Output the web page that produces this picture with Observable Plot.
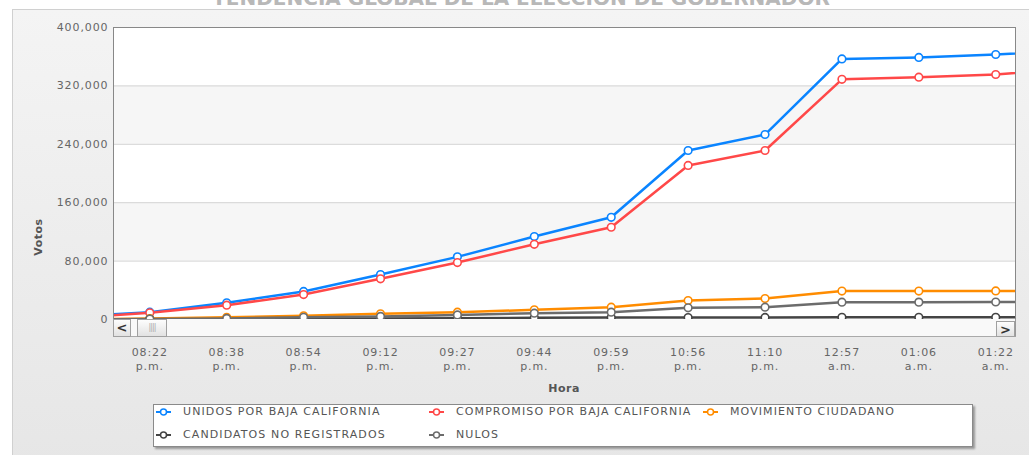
<!DOCTYPE html>
<html>
<head>
<meta charset="utf-8">
<script src="https://cdn.jsdelivr.net/npm/d3@7"></script>
<script src="https://cdn.jsdelivr.net/npm/@observablehq/plot@0.6"></script>
<style>
  body { margin: 0; background: #fff; font-family: "DejaVu Sans", Verdana, sans-serif; }
  #wrap { position: relative; width: 1029px; height: 455px; overflow: hidden; background: #fff; }
  #panel { position: absolute; left: 12px; top: 9px; width: 1030px; height: 460px;
           border: 1px solid #d0d0d0; background: linear-gradient(#f4f4f4, #e6e6e6); }
  #title { position: absolute; left: 0; top: -12px; width: 1042px; text-align: center;
           font: bold 20px/20px "DejaVu Sans", sans-serif; color: #b8b8b8; white-space: nowrap; }
  #chart { position: absolute; left: 0; top: 0; }
  .lbl { position: absolute; font: bold 11px "DejaVu Sans", sans-serif; color: #555; white-space: nowrap; letter-spacing: 0.5px; }
  #votos { left: 38px; top: 237px; transform: translate(-50%, -50%) rotate(-90deg); }
  #hora { left: 564px; top: 388px; transform: translate(-50%, -50%); }
  #track { position: absolute; left: 113px; top: 319px; width: 901px; height: 17px;
           background: #f9f9f9; border-left: 1px solid #999; border-right: 1px solid #999; border-bottom: 1px solid #aaa; }
  .btn { position: absolute; box-sizing: border-box; border: 1px solid #a0a0a0;
         background: linear-gradient(#fdfdfd, #e2e2e2); color: #333;
         font: bold 13px/15px "DejaVu Sans", sans-serif; text-align: center; }
  #lb { left: 113px; top: 319px; width: 18px; height: 18px; }
  #thumb { left: 137px; top: 319px; width: 30px; height: 18px; color: #aaa; font: 8px/16px "DejaVu Sans", sans-serif; letter-spacing: -1px; }
  #rb { left: 996px; top: 321px; width: 19px; height: 16px; }
  #legend { position: absolute; left: 153px; top: 404px; width: 818px; height: 41px;
            background: #fff; border: 1px solid #8a8a8a; box-shadow: 2px 2px 2px rgba(0,0,0,0.35); }
  .item { position: absolute; font: 11px "DejaVu Sans", sans-serif; color: #555; white-space: nowrap; letter-spacing: 1.1px; }
  .item svg { position: absolute; left: -27px; top: 1px; }
</style>
</head>
<body>
<div id="wrap">
  <div id="panel"></div>
  <div id="title"></div>
  <div id="chart"></div>
  <div id="track"></div>
  <div id="lb" class="btn">&lt;</div>
  <div id="thumb" class="btn">||||</div>
  <div id="rb" class="btn">&gt;</div>
  <div id="votos" class="lbl"></div>
  <div id="hora" class="lbl"></div>
  <div id="legend"></div>
</div>
<script>
// ---- Data ----
const titleText = "TENDENCIA GLOBAL DE LA ELECCIÓN DE GOBERNADOR";
const yLabel = "Votos";
const xLabel = "Hora";
const times   = ["08:22","08:38","08:54","09:12","09:27","09:44","09:59","10:56","11:10","12:57","01:06","01:22"];
const periods = ["p.m.","p.m.","p.m.","p.m.","p.m.","p.m.","p.m.","p.m.","p.m.","a.m.","a.m.","a.m."];
const yTicks = [0, 80000, 160000, 240000, 320000, 400000];

const seriesNames = ["UNIDOS POR BAJA CALIFORNIA","COMPROMISO POR BAJA CALIFORNIA","MOVIMIENTO CIUDADANO","CANDIDATOS NO REGISTRADOS","NULOS"];
const seriesColors = ["#0a84ff","#ff4848","#ff8c00","#444444","#6c6c6c"];
// order in which the series are placed in the legend grid (3 columns)
const legendOrder = [0, 1, 2, 3, 4];

// Each series: the point just before the visible window, the 12 visible points, the point just after it
const unidos     = [4000, 10000, 22800, 38400, 61600, 85800, 113700, 140000, 231500, 253400, 357000, 359000, 363000, 368000];
const compromiso = [2500,  9100, 19600, 34200, 55700, 78000, 103000, 126400, 211000, 231500, 329000, 332000, 335600, 344000];
const movimiento = [ 300,  1200,  3000,  5000,  7800, 10000,  13200,  16900,  26000,  28800,  38900,  39000,  39200,  39200];
const candidatos = [ 100,   300,   500,   800,  1200,  1800,   2400,   2600,   2700,   2800,   3000,   3000,   3000,   3000];
const nulos      = [ 200,   700,  1500,  3000,  4200,  6200,   8600,  10000,  16000,  16900,  23700,  23800,  24000,  24000];
const seriesValues = [unidos, compromiso, movimiento, candidatos, nulos];

// ---- Build table ----
const rows = [];
seriesValues.forEach((vals, s) => {
  vals.forEach((v, k) => rows.push({ serie: seriesNames[s], i: k - 1, v }));
});
const xDomain = [-0.472, 11.257];
const bands = [];
for (let k = 1; k + 1 < yTicks.length; k += 2) bands.push({ y1: yTicks[k], y2: yTicks[k + 1] });

document.getElementById("title").textContent = titleText;
document.getElementById("votos").textContent = yLabel;
document.getElementById("hora").textContent = xLabel;

const chart = Plot.plot({
  width: 1029,
  height: 455,
  marginLeft: 113,
  marginRight: 14,
  marginTop: 27,
  marginBottom: 136,
  style: { background: "transparent", fontFamily: "DejaVu Sans, sans-serif", fontSize: "11px", overflow: "visible", letterSpacing: "0.9px" },
  x: { domain: xDomain, axis: null },
  y: { domain: [yTicks[0], yTicks[yTicks.length - 1]], axis: null },
  color: { domain: seriesNames, range: seriesColors },
  marks: [
    Plot.frame({ fill: "white" }),
    Plot.rect(bands, { x1: () => xDomain[0], x2: () => xDomain[1], y1: "y1", y2: "y2", fill: "#f6f6f6" }),
    Plot.gridY(yTicks, { stroke: "#d4d4d4", strokeOpacity: 1, strokeWidth: 1 }),
    Plot.line(rows, { x: "i", y: "v", z: "serie", stroke: "serie", strokeWidth: 2.5, clip: true }),
    Plot.dot(rows, { x: "i", y: "v", stroke: "serie", fill: "white", r: 3.8, strokeWidth: 1.6, clip: true }),
    Plot.axisY(yTicks, { tickSize: 0, tickPadding: 5, tickFormat: d3.format(","), color: "#666", fontSize: 11, label: null }),
    Plot.axisX(d3.range(times.length), {
      tickSize: 0, tickPadding: 27, lineHeight: 1.27, color: "#666", fontSize: 11, label: null,
      tickFormat: (d) => `${times[d]}\n${periods[d]}`
    }),
    Plot.frame({ stroke: "#888", strokeWidth: 1 })
  ]
});
document.getElementById("chart").appendChild(chart);

// ---- Legend ----
const legend = document.getElementById("legend");
const colX = [29, 302, 576];
const rowY = [0, 23];
legendOrder.forEach((s, k) => {
  const item = document.createElement("div");
  item.className = "item";
  item.style.left = colX[k % 3] + "px";
  item.style.top = rowY[Math.floor(k / 3)] + "px";
  item.textContent = seriesNames[s];
  const icon = d3.create("svg").attr("width", 15).attr("height", 12);
  icon.append("line").attr("x1", 0).attr("x2", 15).attr("y1", 6).attr("y2", 6)
    .attr("stroke", seriesColors[s]).attr("stroke-width", 2);
  icon.append("circle").attr("cx", 7.5).attr("cy", 6).attr("r", 3)
    .attr("fill", "white").attr("stroke", seriesColors[s]).attr("stroke-width", 1.5);
  item.appendChild(icon.node());
  legend.appendChild(item);
});
</script>
</body>
</html>
